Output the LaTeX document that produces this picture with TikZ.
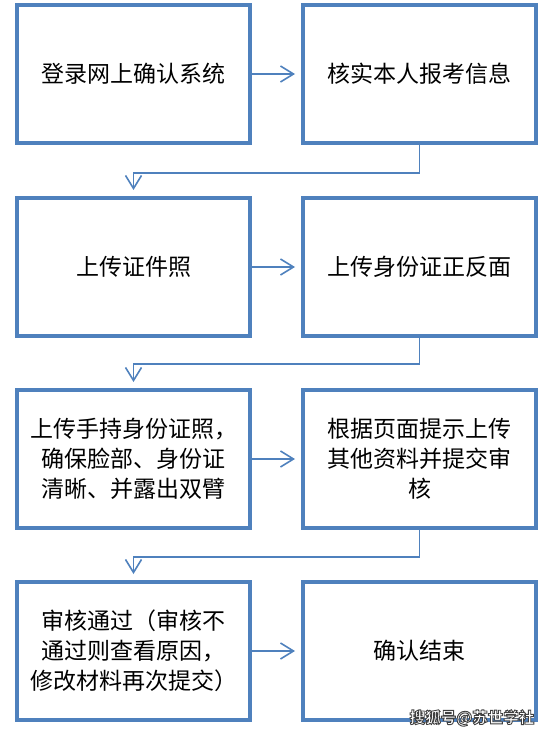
\documentclass[tikz,border=0pt]{standalone}
\usepackage{fontspec}
\newfontfamily\cjk{Noto Sans CJK SC}
\usetikzlibrary{arrows.meta}
\definecolor{boxblue}{HTML}{4F81BD}
\tikzset{
  stepbox/.style={draw=boxblue, line width=4pt, minimum width=233pt, minimum height=138pt,
    align=center, inner sep=0pt, font=\cjk\fontsize{23}{30}\selectfont, text=black},
  conn/.style={draw=boxblue, line width=1.6pt, -{Straight Barb[length=13pt,width=16pt,line width=1.6pt]}},
}
\begin{document}
\begin{tikzpicture}[x=1pt,y=-1pt]
\useasboundingbox (0,0) rectangle (549,735);
\node[stepbox] (a1) at (133.5,74) {登录网上确认系统};
\node[stepbox] (b1) at (419.5,74) {核实本人报考信息};
\node[stepbox] (a2) at (133.5,267) {上传证件照};
\node[stepbox] (b2) at (419.5,267) {上传身份证正反面};
\node[stepbox] (a3) at (133.5,459) {上传手持身份证照，\\确保脸部、身份证\\清晰、并露出双臂};
\node[stepbox] (b3) at (419.5,459) {根据页面提示上传\\其他资料并提交审\\核};
\node[stepbox] (a4) at (133.5,651) {审核通过（审核不\\通过则查看原因，\\修改材料再次提交）};
\node[stepbox] (b4) at (419.5,651) {确认结束};
\draw[conn, shorten >=6pt] (a1.east) -- (b1.west);
\draw[conn, shorten >=6pt] (a2.east) -- (b2.west);
\draw[conn, shorten >=6pt] (a3.east) -- (b3.west);
\draw[conn, shorten >=6pt] (a4.east) -- (b4.west);
\draw[conn, shorten >=6pt] (b1.south) -- ++(0,28) -| (a2.north);
\draw[conn, shorten >=6pt] (b2.south) -- ++(0,26) -| (a3.north);
\draw[conn, shorten >=6pt] (b3.south) -- ++(0,27) -| (a4.north);
\node[font=\cjk\bfseries\fontsize{15.5}{16}\selectfont, text=white, inner sep=0pt] (wm) at (472,718)
  {\special{pdf:code 2 Tr 0.9 w 0.25 0.25 0.25 RG}搜狐号@苏世学社\special{pdf:code 0 Tr}};
\end{tikzpicture}
\end{document}
